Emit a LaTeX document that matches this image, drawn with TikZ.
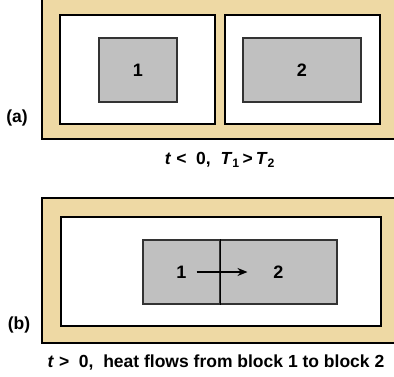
\documentclass[tikz,border=0pt]{standalone}
\usepackage{fontspec}
\setmainfont{Liberation Sans}
\usetikzlibrary{arrows.meta, positioning}
\definecolor{Papyrus}{HTML}{EED9A4}
\definecolor{BlockGrey}{HTML}{C0C0C0}

\begin{document}
\begin{tikzpicture}[x=1pt, y=-1pt, >={Stealth[length=10pt, width=8pt]},
  wall/.style={draw, line width=2.4pt, fill=Papyrus},
  cavity/.style={draw, line width=2.6pt, fill=white},
  block/.style={draw=black!80, line width=1.1pt, fill=BlockGrey, inner sep=0pt,
                minimum height=64, font=\fontsize{18}{21}\selectfont\bfseries},
  lbl/.style={font=\fontsize{17.5}{20}\selectfont\bfseries, inner sep=0pt}]
  \useasboundingbox (0,0) rectangle (394,376);
  \clip (0,0) rectangle (394,376);
  % (a) two blocks in separate cavities
  \draw[wall] (42,-10) rectangle (410,139);
  \draw[cavity] (60,15) rectangle (215,124);
  \draw[cavity] (225,15) rectangle (380,124);
  \node[block, minimum width=78] (blkA1) at (138,70) {1};
  \node[block, minimum width=118] (blkA2) at (302,70) {2};
  \node[lbl] (tagA) at (17,118) {(a)};
  \node[lbl] (capA) at (220,160)
    {\textit{t} <~ 0,~ \textit{T}\textsubscript{1}\,>\,\textit{T}\textsubscript{2}};
  % (b) blocks in contact
  \draw[wall] (42,198) rectangle (410,343);
  \draw[cavity] (61,217) rectangle (381,326);
  \node[block, minimum width=77] (blkB1) at (181.5,272) {1};
  \node[block, minimum width=117] (blkB2) at (278.5,272) {2};
  \draw[line width=1.6pt] (blkB1.north east) -- (blkB1.south east);
  \draw[->, line width=1.5pt, shorten <=15pt, shorten >=31pt]
    (blkB1.center) -- (blkB2.center);
  \node[lbl] (tagB) at (19,325) {(b)};
  \node[lbl] (capB) at (216,363) {\textit{t} >~ 0,~ heat flows from block 1 to block 2};
\end{tikzpicture}
\end{document}
